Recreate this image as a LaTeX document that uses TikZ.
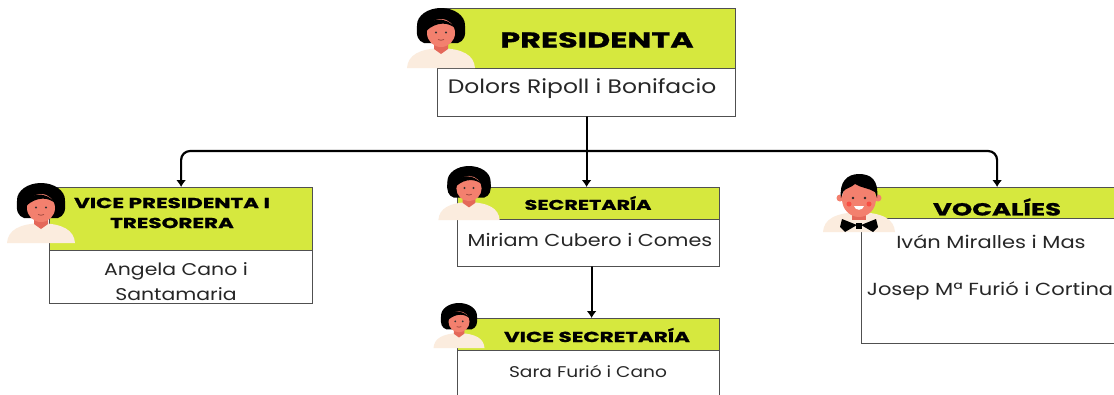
\documentclass[tikz,border=0pt]{standalone}
\usepackage{fontspec}
\setmainfont{Poppins}
\newfontfamily\hfont{Poppins}[BoldFeatures={FakeBold=1.2,FakeStretch=1.48}]
\newfontfamily\nfont{Poppins}[FakeStretch=1.2]
\usetikzlibrary{arrows.meta}
\definecolor{lime}{RGB}{214,232,62}
\definecolor{skin}{RGB}{243,128,110}
\definecolor{skindk}{RGB}{228,104,90}
\definecolor{cream}{RGB}{251,236,222}
\definecolor{frame}{RGB}{80,80,80}
\tikzset{
  headbox/.style={draw=frame, line width=1.2pt, fill=lime, inner sep=0pt, anchor=north west},
  namebox/.style={draw=frame, line width=1.2pt, fill=white, inner sep=0pt, anchor=north west},
  conn/.style={line width=2.2pt, line cap=round, -{Latex[length=7pt,width=10pt]}},
  ttl/.style={text=black, inner sep=0pt, align=center},
  nm/.style={text=black!85, inner sep=0pt, align=center},
  pics/female/.style={code={
    \fill[cream] (-34,0) .. controls (-33,-13) and (-22,-19) .. (0,-20) .. controls (22,-19) and (33,-13) .. (34,0) -- cycle;
    \fill[black] (0,-43) ellipse [x radius=24, y radius=17];
    \fill[black] (-24,-42) .. controls (-25,-32) and (-23,-27) .. (-17,-25) -- (17,-25) .. controls (23,-27) and (25,-32) .. (24,-42) -- cycle;
    \fill[skindk] (-7,-26) -- (7,-26) -- (7,-19) -- (0,-14) -- (-7,-19) -- cycle;
    \fill[skin] (0,-35) ellipse [x radius=14, y radius=14];
    \fill[black] (-15,-37) .. controls (-13,-51) and (5,-53) .. (15,-39) .. controls (8,-46) and (-4,-47) .. (-15,-37) -- cycle;
    \fill[black!80] (-5,-35.5) circle (1.2) (5,-35.5) circle (1.2);
    \draw[skindk!70!black, line width=0.8pt] (-3,-28.5) .. controls (-1,-27.5) and (1,-27.5) .. (3,-28.5);
  }},
  pics/male/.style={code={
    \fill[cream] (-36,0) .. controls (-35,-13) and (-24,-19) .. (0,-20) .. controls (24,-19) and (35,-13) .. (36,0) -- cycle;
    \fill[skindk] (-7,-20) rectangle (7,-12);
    \fill[black] (-17,-13) -- (-2,-7) -- (-14,0) -- (-19,-5) -- cycle;
    \fill[black] (17,-13) -- (2,-7) -- (14,0) -- (19,-5) -- cycle;
    \fill[black] (-3,-9) rectangle (3,-3);
    \fill[skin] (-19,-34) circle (3.5) (19,-34) circle (3.5);
    \fill[skin] (0,-33) ellipse [x radius=17, y radius=18];
    \fill[black] (-18,-34) .. controls (-20,-50) and (-12,-58) .. (0,-58) .. controls (12,-58) and (20,-52) .. (18,-34) -- (16,-40) .. controls (10,-44) and (2,-44) .. (-4,-48) .. controls (-8,-44) and (-14,-44) .. (-16,-40) -- cycle;
    \fill[red!40!skin] (-10,-28) circle (2.5) (10,-28) circle (2.5);
    \fill[black!85] (-6,-34) circle (1.3) (6,-34) circle (1.3);
    \fill[white] (-5,-26) .. controls (-4,-21) and (4,-21) .. (5,-26) -- cycle;
  }}
}
\begin{document}
\begin{tikzpicture}[x=1pt,y=-1pt]
\useasboundingbox (0,0) rectangle (1114,394);
\clip (0,0) rectangle (1114,394);
\fill[white] (0,0) rectangle (1114,394);
% PRESIDENTA
\node[headbox, minimum width=298pt, minimum height=60pt] (presH) at (437,8) {};
\node[namebox, minimum width=298pt, minimum height=48pt] (presW) at (437,68) {};
\pic at (441,68) {female};
\node[ttl, font=\hfont\bfseries\fontsize{21.5}{21.5}\selectfont] (presT) at (597,40) {PRESIDENTA};
\node[nm, font=\nfont\fontsize{19.5}{20}\selectfont] (presN) at (582,89) {Dolors Ripoll i Bonifacio};
% VICE PRESIDENTA
\node[headbox, minimum width=263pt, minimum height=63pt] (vpH) at (49,187) {};
\node[namebox, minimum width=263pt, minimum height=53pt] (vpW) at (49,250) {};
\pic at (41,243) {female};
\node[ttl, font=\hfont\bfseries\fontsize{14.5}{20}\selectfont] (vpT) at (172,213) {VICE PRESIDENTA I\\TRESORERA};
\node[nm, font=\nfont\fontsize{17}{25}\selectfont] (vpN) at (176,282) {Angela Cano i\\Santamaria};
% SECRETARIA
\node[headbox, minimum width=262pt, minimum height=32pt] (secH) at (457,187) {};
\node[namebox, minimum width=262pt, minimum height=47pt] (secW) at (457,219) {};
\pic[scale=0.9] at (469,220) {female};
\node[ttl, font=\hfont\bfseries\fontsize{14}{14}\selectfont] (secT) at (588,203) {SECRETARÍA};
\node[nm, font=\nfont\fontsize{17.3}{17}\selectfont] (secN) at (590,240) {Miriam Cubero i Comes};
% VICE SECRETARIA
\node[headbox, minimum width=262pt, minimum height=32pt] (vsH) at (457,318) {};
\node[namebox, minimum width=262pt, minimum height=60pt] (vsW) at (457,350) {};
\pic[scale=0.75] at (459,348) {female};
\node[ttl, font=\hfont\bfseries\fontsize{14.5}{15}\selectfont] (vsT) at (597,335) {VICE SECRETARÍA};
\node[nm, font=\nfont\fontsize{15.5}{15}\selectfont] (vsN) at (588,371) {Sara Furió i Cano};
% VOCALIES
\node[headbox, minimum width=270pt, minimum height=31pt] (vocH) at (861,187) {};
\node[namebox, minimum width=270pt, minimum height=125pt] (vocW) at (861,218) {};
\pic at (859,232) {male};
\node[ttl, font=\hfont\bfseries\fontsize{17.5}{18}\selectfont] (vocT) at (997,207) {VOCALÍES};
\node[nm, font=\nfont\fontsize{17.5}{17}\selectfont] (vocN1) at (991,242) {Iván Miralles i Mas};
\node[nm, font=\nfont\fontsize{17.5}{17}\selectfont] (vocN2) at (990,291) {Josep Mª Furió i Cortina};
% connectors
\coordinate (junc) at (presW.south |- 0,151);
\draw[conn] (presW.south) -- (presW.south |- secH.north);
\draw[conn, rounded corners=9pt] (junc) -| (vpH.north);
\draw[conn, rounded corners=9pt] (junc) -| ([xshift=0.5pt]vocH.north);
\draw[conn] ([xshift=3pt]secW.south) -- ([xshift=3pt]secW.south |- vsH.north);
\end{tikzpicture}
\end{document}
